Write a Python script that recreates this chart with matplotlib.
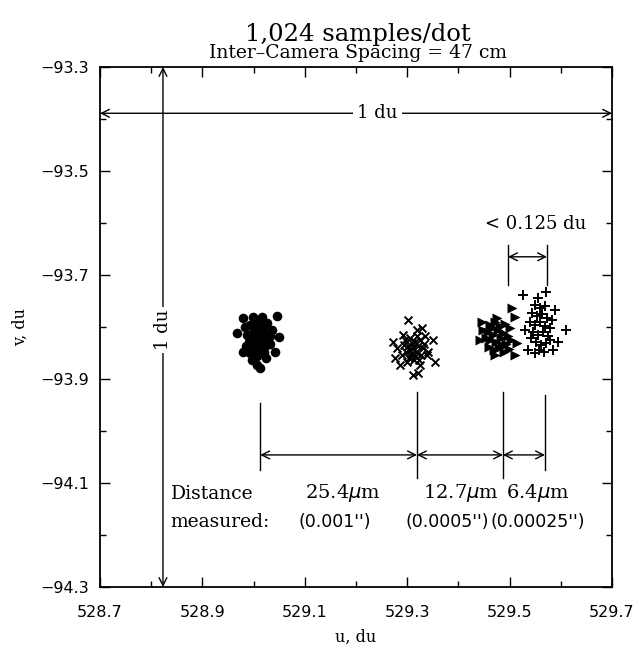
import matplotlib
matplotlib.use("Agg")
import matplotlib.pyplot as plt
from matplotlib.ticker import MultipleLocator, FixedLocator

# ---- data (u, v in du) ----
dots_u = [528.979, 528.999, 529.016, 529.046, 528.968, 528.983, 529.026, 529.036, 529.050, 528.979,
          528.997, 529.007, 529.013, 529.042, 528.993, 529.003, 529.013, 529.022, 529.009, 529.016,
          529.005, 529.024, 528.997, 528.991, 529.028, 529.013, 529.001, 529.020, 529.032, 528.987,
          529.009, 528.993, 529.018, 529.007, 528.985, 529.024, 529.032, 529.014, 528.999, 529.011,
          529.005, 529.018, 529.011, 529.022, 528.995]
dots_v = [-93.783, -93.781, -93.781, -93.779, -93.812, -93.800, -93.792, -93.806, -93.819, -93.848,
          -93.863, -93.873, -93.879, -93.848, -93.850, -93.806, -93.802, -93.810, -93.817, -93.825,
          -93.833, -93.835, -93.821, -93.829, -93.821, -93.840, -93.844, -93.848, -93.833, -93.815,
          -93.790, -93.796, -93.798, -93.856, -93.837, -93.860, -93.817, -93.813, -93.812, -93.829,
          -93.821, -93.833, -93.806, -93.825, -93.837]

cross_u = [529.302, 529.319, 529.329, 529.272, 529.280, 529.276, 529.286, 529.341, 529.350, 529.354,
           529.321, 529.311, 529.339, 529.292, 529.335, 529.296, 529.305, 529.315, 529.325, 529.302,
           529.311, 529.321, 529.331, 529.298, 529.307, 529.317, 529.327, 529.304, 529.313, 529.323,
           529.294, 529.309, 529.319, 529.333, 529.305, 529.290, 529.315, 529.325, 529.300]
cross_v = [-93.787, -93.806, -93.802, -93.829, -93.840, -93.860, -93.873, -93.848, -93.825, -93.867,
           -93.888, -93.892, -93.854, -93.815, -93.817, -93.825, -93.821, -93.829, -93.825, -93.837,
           -93.840, -93.837, -93.840, -93.848, -93.852, -93.848, -93.854, -93.860, -93.863, -93.863,
           -93.835, -93.831, -93.817, -93.833, -93.844, -93.854, -93.856, -93.873, -93.867]

tri_u = [529.505, 529.511, 529.446, 529.448, 529.514, 529.511, 529.471, 529.442, 529.462, 529.471,
         529.481, 529.491, 529.501, 529.458, 529.468, 529.477, 529.487, 529.497, 529.462, 529.473,
         529.483, 529.493, 529.503, 529.460, 529.470, 529.479, 529.489, 529.499, 529.454, 529.475,
         529.485, 529.466]
tri_v = [-93.763, -93.781, -93.790, -93.806, -93.831, -93.854, -93.854, -93.825, -93.796, -93.790,
         -93.798, -93.794, -93.802, -93.810, -93.815, -93.806, -93.812, -93.817, -93.825, -93.829,
         -93.821, -93.833, -93.825, -93.838, -93.844, -93.840, -93.848, -93.842, -93.821, -93.783,
         -93.835, -93.802]

plus_u = [529.526, 529.555, 529.571, 529.610, 529.594, 529.585, 529.550, 529.530, 529.589, 529.536,
          529.550, 529.559, 529.569, 529.544, 529.554, 529.563, 529.573, 529.583, 529.540, 529.550,
          529.559, 529.569, 529.579, 529.546, 529.555, 529.565, 529.575, 529.552, 529.561, 529.571,
          529.542, 529.557, 529.567, 529.579]
plus_v = [-93.738, -93.744, -93.733, -93.806, -93.829, -93.844, -93.850, -93.806, -93.767, -93.844,
          -93.758, -93.763, -93.760, -93.773, -93.779, -93.775, -93.783, -93.787, -93.790, -93.796,
          -93.790, -93.798, -93.802, -93.810, -93.815, -93.810, -93.817, -93.829, -93.835, -93.831,
          -93.821, -93.844, -93.848, -93.825]

# measurement marks (u positions of dimension lines)
meas_u = [529.013, 529.319, 529.487, 529.569]
dist_um = ["25.4$\\mu$m", "12.7$\\mu$m", "6.4$\\mu$m"]
dist_in = ["(0.001'')", "(0.0005'')", "(0.00025'')"]

xticks = [528.7, 528.9, 529.1, 529.3, 529.5, 529.7]
yticks = [-93.3, -93.5, -93.7, -93.9, -94.1, -94.3]

SERIF = "DejaVu Serif"
SANS = "DejaVu Sans"
FS = 13

fig = plt.figure(figsize=(6.39, 6.51), dpi=100)
ax = fig.add_axes([0.1565, 0.0983, 0.8013, 0.7988])
ax.set_xlim(528.7, 529.7)
ax.set_ylim(-94.3, -93.3)

ax.scatter(dots_u, dots_v, marker='o', s=48, c='black', linewidths=0)
ax.scatter(cross_u, cross_v, marker='x', s=32, c='black', linewidths=1.4)
ax.scatter(tri_u, tri_v, marker='>', s=52, c='black', linewidths=0)
ax.scatter(plus_u, plus_v, marker='+', s=55, c='black', linewidths=1.4)

# ticks
ax.xaxis.set_major_locator(FixedLocator(xticks))
ax.yaxis.set_major_locator(FixedLocator(yticks))
ax.xaxis.set_minor_locator(MultipleLocator(0.1))
ax.yaxis.set_minor_locator(MultipleLocator(0.1))
ax.tick_params(which='both', direction='in', top=True, right=True, width=1, color='black')
ax.tick_params(which='major', length=7, labelsize=11.5)
ax.tick_params(axis='x', which='major', pad=13)
ax.tick_params(axis='y', which='major', pad=8)
ax.tick_params(which='minor', length=4)
ax.set_xticklabels([f"{t:.1f}" for t in xticks], family=SANS)
ax.set_yticklabels([f"\u2212{abs(t):.1f}" for t in yticks], family=SANS)
for s in ax.spines.values():
    s.set_linewidth(1.3)

ax.set_xlabel("u, du", family=SERIF, fontsize=11.5, labelpad=6)
ax.set_ylabel("v, du", family=SERIF, fontsize=11.5, labelpad=8)

fig.text(0.56, 0.947, "1,024 samples/dot", family=SERIF, fontsize=17.5, ha='center', va='center')
fig.text(0.56, 0.918, "Inter\u2013Camera Spacing = 47 cm", family=SERIF, fontsize=13.5, ha='center', va='center')

arw = dict(arrowstyle='<->', lw=1, color='black', shrinkA=0, shrinkB=0, mutation_scale=14)

# horizontal 1 du
ax.annotate("", xy=(528.7, -93.389), xytext=(529.7, -93.389), arrowprops=arw)
ax.text(529.242, -93.389, "1 du", family=SERIF, fontsize=FS, ha='center', va='center',
        bbox=dict(fc='white', ec='none', pad=3))
# vertical 1 du
ax.annotate("", xy=(528.823, -93.3), xytext=(528.823, -94.3), arrowprops=arw)
ax.text(528.823, -93.806, "1 du", family=SERIF, fontsize=FS, ha='center', va='center', rotation=90,
        bbox=dict(fc='white', ec='none', pad=2))

# measurement extension lines
ext_top = [-93.946, -93.925, -93.925, -93.931]
ext_bot = [-94.075, -94.09, -94.09, -94.075]
for u, t, b in zip(meas_u, ext_top, ext_bot):
    ax.plot([u, u], [t, b], color='black', lw=1)
for i in range(3):
    ax.annotate("", xy=(meas_u[i], -94.046), xytext=(meas_u[i + 1], -94.046), arrowprops=arw)

# < 0.125 du
ax.plot([529.497, 529.497], [-93.642, -93.719], color='black', lw=1)
ax.plot([529.573, 529.573], [-93.642, -93.719], color='black', lw=1)
ax.annotate("", xy=(529.497, -93.665), xytext=(529.573, -93.665), arrowprops=arw)
ax.text(529.55, -93.602, "< 0.125 du", family=SERIF, fontsize=FS, ha='center', va='center')

# distance texts
ax.text(528.838, -94.121, "Distance", family=SERIF, fontsize=FS + 0.5, ha='left', va='center')
ax.text(528.838, -94.175, "measured:", family=SERIF, fontsize=FS + 0.5, ha='left', va='center')
lab_u1 = [529.1, 529.331, 529.492]
lab_u2 = [529.087, 529.297, 529.463]
for u, s in zip(lab_u1, dist_um):
    ax.text(u, -94.119, s, family=SERIF, fontsize=FS + 1, ha='left', va='center')
for u, s in zip(lab_u2, dist_in):
    ax.text(u, -94.175, s, family=SANS, fontsize=12.5, ha='left', va='center')

fig.savefig("out.png", dpi=100)
